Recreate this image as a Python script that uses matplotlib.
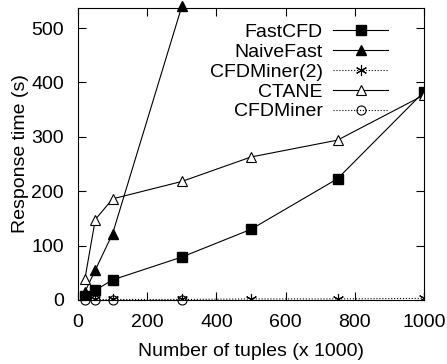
import matplotlib
matplotlib.use("Agg")
import matplotlib.pyplot as plt

plt.rcParams['font.family'] = ['Liberation Sans', 'DejaVu Sans']

x_full = [20, 50, 100, 300, 500, 750, 1000]
x_naive = [20, 50, 100, 300]
x_miner = [20, 50, 100, 300]

fastcfd = [8, 18, 37, 79, 130, 223, 383]
naivefast = [15, 55, 122, 540]
cfdminer2 = [1, 1, 1, 1, 2, 2, 3]
ctane = [39, 148, 186, 218, 263, 294, 377]
cfdminer = [0, 0, 0, 0]

fig = plt.figure(figsize=(4.47, 3.64), dpi=100)
ax = fig.add_axes([78/447, 1-300/364, (424-78)/447, (300-8)/364])

lw = 0.8
ax.plot(x_full, fastcfd, '-', color='black', lw=lw, marker='s', ms=6.5, label='FastCFD')
ax.plot(x_naive, naivefast, '-', color='black', lw=lw, marker='^', ms=6.5, label='NaiveFast', clip_on=False)
ax.plot(x_full, cfdminer2, ':', color='black', lw=lw, marker=(6, 2, 0), ms=8, mew=0.8, label='CFDMiner(2)')
ax.plot(x_full, ctane, '-', color='black', lw=lw, marker='^', ms=6.5, mfc='white', mew=0.8, label='CTANE')
ax.plot(x_miner, cfdminer, ':', color='black', lw=lw, marker='o', ms=6.5, mfc='none', mew=0.8, label='CFDMiner', clip_on=False)

ax.set_xlim(0, 1000)
ax.set_ylim(0, 537)
ax.set_xticks([0, 200, 400, 600, 800, 1000])
ax.set_yticks([0, 100, 200, 300, 400, 500])
ax.tick_params(direction='in', top=True, right=True, labelsize=14, length=6, pad=10)
ax.set_xlabel('Number of tuples (x 1000)', fontsize=14, labelpad=9)
ax.set_ylabel('Response time (s)', fontsize=14, labelpad=2)

leg = ax.legend(loc='upper right', frameon=False, markerfirst=False, fontsize=14,
                handlelength=2.8, labelspacing=0.12, borderaxespad=0.0, handletextpad=0.55,
                bbox_to_anchor=(0.918, 0.975))

fig.savefig('out.png', dpi=100)
